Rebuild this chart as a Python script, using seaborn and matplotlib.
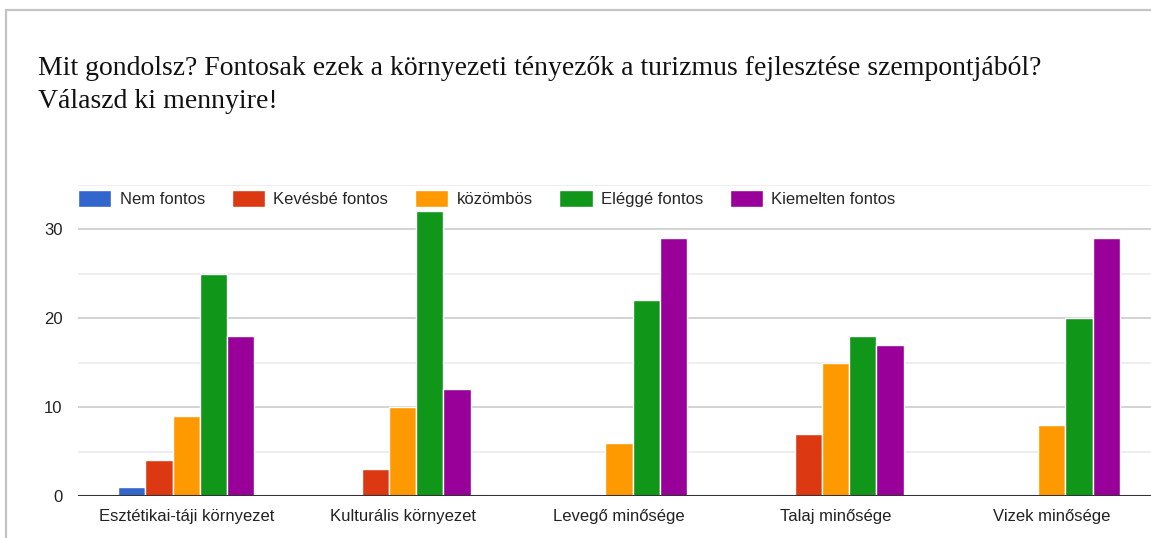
import matplotlib
matplotlib.use("Agg")
import matplotlib.pyplot as plt
import seaborn as sns
import pandas as pd
from matplotlib.lines import Line2D

categories = ["Esztétikai-táji környezet", "Kulturális környezet",
              "Levegő minősége", "Talaj minősége", "Vizek minősége"]
answers = ["Nem fontos", "Kevésbé fontos", "közömbös", "Eléggé fontos",
           "Kiemelten fontos"]
nem_fontos = [1, 0, 0, 0, 0]
kevesbe_fontos = [4, 3, 0, 7, 0]
kozombos = [9, 10, 6, 15, 8]
eleg_fontos = [25, 32, 22, 18, 20]
kiemelten_fontos = [18, 12, 29, 17, 29]
colors = ["#3366cc", "#dc3912", "#ff9900", "#109618", "#990099"]

title_lines = ["Mit gondolsz? Fontosak ezek a környezeti tényezők a turizmus "
               "fejlesztése szempontjából?",
               "Válaszd ki mennyire!"]

series = [nem_fontos, kevesbe_fontos, kozombos, eleg_fontos, kiemelten_fontos]
rows = []
for ans, vals in zip(answers, series):
    for cat, v in zip(categories, vals):
        rows.append({"kategoria": cat, "valasz": ans, "db": v})
df = pd.DataFrame(rows)

sns.set_style("white")
plt.rcParams["font.family"] = ["Liberation Sans", "DejaVu Sans"]

fig = plt.figure(figsize=(11.51, 5.38), dpi=100)
ax = fig.add_axes([78 / 1151, 42 / 538, (1160 - 78) / 1151, (496 - 184.5) / 538])

sns.barplot(data=df, x="kategoria", y="db", hue="valasz", hue_order=answers,
            palette=colors, width=0.63, edgecolor="white", linewidth=1,
            saturation=1, ax=ax, zorder=3)

ax.set_xlim(-0.5, 4.5)
ax.set_ylim(0, 35)
ax.set_yticks([0, 10, 20, 30])
ax.set_yticks([5, 15, 25, 35], minor=True)
ax.grid(axis="y", which="major", color="#cccccc", linewidth=1.2, zorder=0)
ax.grid(axis="y", which="minor", color="#ebebeb", linewidth=1.2, zorder=0)
ax.axhline(0, color="#333333", linewidth=1.5, zorder=4)
ax.set_axisbelow(True)
for s in ax.spines.values():
    s.set_visible(False)
ax.set_xlabel("")
ax.set_ylabel("")
ax.tick_params(axis="both", which="both", length=0, labelsize=12,
               labelcolor="#222222")
ax.tick_params(axis="y", pad=11)
ax.tick_params(axis="x", pad=9)

ax.legend(loc="center left", bbox_to_anchor=(0, 0.955), ncol=5,
          frameon=False, fontsize=12, handlelength=2.0, handleheight=1.2,
          handletextpad=0.5, columnspacing=1.6, borderpad=0,
          borderaxespad=0)

# title, one text per line (baselines)
for line, base in zip(title_lines, [75, 108]):
    fig.text(38 / 1151, 1 - base / 538, line, fontsize=20,
             family=["Liberation Serif", "DejaVu Serif"], color="#111111",
             va="baseline", ha="left")

# card frame
fig.add_artist(Line2D([6 / 1151, 1], [1 - 10 / 538, 1 - 10 / 538],
                      color="#c4c4c4", linewidth=1.6))
fig.add_artist(Line2D([6 / 1151, 6 / 1151], [0, 1 - 10 / 538],
                      color="#c4c4c4", linewidth=1.6))

fig.savefig("out.png", dpi=100)
